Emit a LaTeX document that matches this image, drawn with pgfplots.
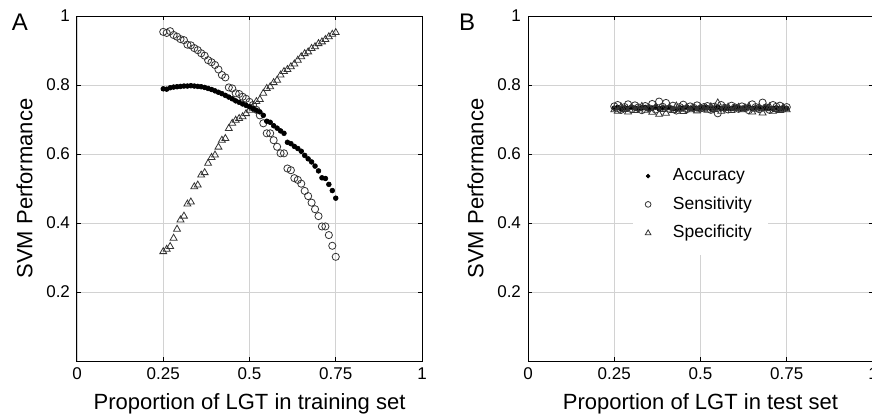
\documentclass[border=0pt]{standalone}
\usepackage{pgfplots}
\pgfplotsset{compat=1.18}
\usepackage{fontspec}
\setmainfont{Liberation Sans}

\pgfplotsset{
  svmaxis/.style={
    scale only axis,
    width=172.5pt, height=172.5pt,
    xmin=0, xmax=1, ymin=0, ymax=1,
    xtick={0,0.25,0.5,0.75,1},
    xticklabels={0,0.25,0.5,0.75,1},
    ytick={0.2,0.4,0.6,0.8,1},
    yticklabels={0.2,0.4,0.6,0.8,1},
    tick align=inside,
    major tick length=2pt,
    grid=major,
    grid style={gray!35, line width=0.4pt},
    axis line style={line width=0.5pt},
    tick style={black, line width=0.5pt},
    ticklabel style={font=\fontsize{8.5}{10}\selectfont},
    /pgf/number format/assume math mode=true,
    label style={font=\fontsize{11}{13}\selectfont},
    ylabel={SVM Performance},
    clip=false,
  },
  acc/.style={only marks, mark=*, mark size=1.2pt, mark options={fill=black, draw=black, line width=0.3pt}},
  sens/.style={only marks, mark=o, mark size=1.8pt, mark options={draw=black!80, line width=0.4pt}},
  spec/.style={only marks, mark=triangle, mark size=2pt, mark options={draw=black!80, line width=0.4pt}},
}

\begin{document}
\begin{tikzpicture}
\path[use as bounding box] (-38.5pt,-29pt) rectangle (397.5pt,180.5pt);

% panel A: varying LGT share in training set
\begin{axis}[svmaxis, at={(0pt,0pt)}, anchor=origin,
  xlabel={Proportion of LGT in training set}]
\addplot[sens] coordinates {
(0.25,0.954) (0.26,0.951) (0.27,0.956) (0.28,0.945) (0.29,0.940) (0.30,0.933) (0.31,0.930)
(0.32,0.917) (0.33,0.915) (0.34,0.907) (0.35,0.901) (0.36,0.892) (0.37,0.885) (0.38,0.872)
(0.39,0.866) (0.40,0.858) (0.41,0.845) (0.42,0.829) (0.43,0.822) (0.44,0.793) (0.45,0.790)
(0.46,0.776) (0.47,0.774) (0.48,0.766) (0.49,0.760) (0.50,0.751) (0.51,0.742) (0.52,0.728)
(0.53,0.712) (0.54,0.689) (0.55,0.660) (0.56,0.660) (0.57,0.640) (0.58,0.621) (0.59,0.602)
(0.60,0.602) (0.61,0.558) (0.62,0.553) (0.63,0.530) (0.64,0.525) (0.65,0.514) (0.66,0.493)
(0.67,0.478) (0.68,0.459) (0.69,0.440) (0.70,0.420) (0.71,0.390) (0.72,0.390) (0.73,0.365)
(0.74,0.334) (0.75,0.302)
};
\addplot[spec] coordinates {
(0.25,0.317) (0.26,0.324) (0.27,0.332) (0.28,0.356) (0.29,0.382) (0.30,0.409) (0.31,0.420)
(0.32,0.455) (0.33,0.461) (0.34,0.505) (0.35,0.510) (0.36,0.539) (0.37,0.546) (0.38,0.573)
(0.39,0.590) (0.40,0.597) (0.41,0.620) (0.42,0.640) (0.43,0.645) (0.44,0.674) (0.45,0.689)
(0.46,0.698) (0.47,0.703) (0.48,0.708) (0.49,0.717) (0.50,0.727) (0.51,0.733) (0.52,0.752)
(0.53,0.758) (0.54,0.776) (0.55,0.790) (0.56,0.795) (0.57,0.807) (0.58,0.814) (0.59,0.829)
(0.60,0.839) (0.61,0.845) (0.62,0.853) (0.63,0.861) (0.64,0.872) (0.65,0.882) (0.66,0.891)
(0.67,0.896) (0.68,0.906) (0.69,0.911) (0.70,0.920) (0.71,0.925) (0.72,0.932) (0.73,0.940)
(0.74,0.947) (0.75,0.952)
};
\addplot[acc] coordinates {
(0.25,0.789) (0.26,0.788) (0.27,0.792) (0.28,0.794) (0.29,0.795) (0.30,0.796) (0.31,0.797)
(0.32,0.797) (0.33,0.798) (0.34,0.797) (0.35,0.796) (0.36,0.795) (0.37,0.793) (0.38,0.790)
(0.39,0.787) (0.40,0.783) (0.41,0.779) (0.42,0.775) (0.43,0.770) (0.44,0.765) (0.45,0.760)
(0.46,0.754) (0.47,0.750) (0.48,0.745) (0.49,0.741) (0.50,0.737) (0.51,0.732) (0.52,0.727)
(0.53,0.722) (0.54,0.712) (0.55,0.695) (0.56,0.692) (0.57,0.682) (0.58,0.675) (0.59,0.667)
(0.60,0.660) (0.61,0.634) (0.62,0.630) (0.63,0.622) (0.64,0.616) (0.65,0.608) (0.66,0.596)
(0.67,0.586) (0.68,0.577) (0.69,0.565) (0.70,0.551) (0.71,0.531) (0.72,0.529) (0.73,0.512)
(0.74,0.494) (0.75,0.472)
};
\end{axis}
\node[font=\fontsize{12}{14}\selectfont] at (-28.5pt,169.5pt) {A};

% panel B: varying LGT share in test set
\begin{axis}[svmaxis, at={(225.5pt,0pt)}, anchor=origin,
  xlabel={Proportion of LGT in test set},
  legend style={at={(axis description cs:0.50,0.453)}, anchor=center,
    draw=none, fill=white, font=\fontsize{8.75}{10}\selectfont,
    row sep=2.5pt, inner xsep=6pt, inner ysep=5pt,
    /tikz/every odd column/.append style={column sep=9pt}},
  legend image post style={scale=0.8},
  legend cell align=left]
\addplot[acc] coordinates {
(0.25,0.733) (0.26,0.735) (0.27,0.731) (0.28,0.734) (0.29,0.732) (0.30,0.736) (0.31,0.733)
(0.32,0.730) (0.33,0.734) (0.34,0.735) (0.35,0.732) (0.36,0.733) (0.37,0.736) (0.38,0.731)
(0.39,0.734) (0.40,0.733) (0.41,0.735) (0.42,0.732) (0.43,0.730) (0.44,0.734) (0.45,0.733)
(0.46,0.736) (0.47,0.732) (0.48,0.734) (0.49,0.731) (0.50,0.733) (0.51,0.735) (0.52,0.734)
(0.53,0.732) (0.54,0.733) (0.55,0.736) (0.56,0.731) (0.57,0.734) (0.58,0.733) (0.59,0.732)
(0.60,0.735) (0.61,0.734) (0.62,0.731) (0.63,0.733) (0.64,0.736) (0.65,0.732) (0.66,0.734)
(0.67,0.733) (0.68,0.731) (0.69,0.735) (0.70,0.733) (0.71,0.732) (0.72,0.734) (0.73,0.731)
(0.74,0.733) (0.75,0.732)
};
\addlegendentry{Accuracy}
\addplot[sens] coordinates {
(0.25,0.738) (0.26,0.742) (0.27,0.728) (0.28,0.736) (0.29,0.744) (0.30,0.730) (0.31,0.741)
(0.32,0.735) (0.33,0.727) (0.34,0.739) (0.35,0.733) (0.36,0.745) (0.37,0.729) (0.38,0.752)
(0.39,0.737) (0.40,0.748) (0.41,0.731) (0.42,0.740) (0.43,0.726) (0.44,0.736) (0.45,0.743)
(0.46,0.730) (0.47,0.738) (0.48,0.734) (0.49,0.741) (0.50,0.732) (0.51,0.736) (0.52,0.739)
(0.53,0.728) (0.54,0.737) (0.55,0.718) (0.56,0.742) (0.57,0.734) (0.58,0.729) (0.59,0.740)
(0.60,0.735) (0.61,0.731) (0.62,0.738) (0.63,0.733) (0.64,0.727) (0.65,0.744) (0.66,0.736)
(0.67,0.730) (0.68,0.749) (0.69,0.735) (0.70,0.728) (0.71,0.742) (0.72,0.737) (0.73,0.740)
(0.74,0.731) (0.75,0.736)
};
\addlegendentry{Sensitivity}
\addplot[spec] coordinates {
(0.25,0.728) (0.26,0.724) (0.27,0.736) (0.28,0.729) (0.29,0.722) (0.30,0.735) (0.31,0.726)
(0.32,0.731) (0.33,0.738) (0.34,0.727) (0.35,0.733) (0.36,0.721) (0.37,0.736) (0.38,0.715)
(0.39,0.729) (0.40,0.718) (0.41,0.734) (0.42,0.726) (0.43,0.739) (0.44,0.730) (0.45,0.723)
(0.46,0.735) (0.47,0.728) (0.48,0.732) (0.49,0.725) (0.50,0.734) (0.51,0.730) (0.52,0.727)
(0.53,0.737) (0.54,0.729) (0.55,0.748) (0.56,0.724) (0.57,0.732) (0.58,0.736) (0.59,0.726)
(0.60,0.731) (0.61,0.735) (0.62,0.728) (0.63,0.733) (0.64,0.738) (0.65,0.722) (0.66,0.730)
(0.67,0.735) (0.68,0.719) (0.69,0.731) (0.70,0.737) (0.71,0.724) (0.72,0.729) (0.73,0.726)
(0.74,0.734) (0.75,0.728)
};
\addlegendentry{Specificity}
\end{axis}
\node[font=\fontsize{12}{14}\selectfont] at (195pt,169.5pt) {B};
\end{tikzpicture}
\end{document}
